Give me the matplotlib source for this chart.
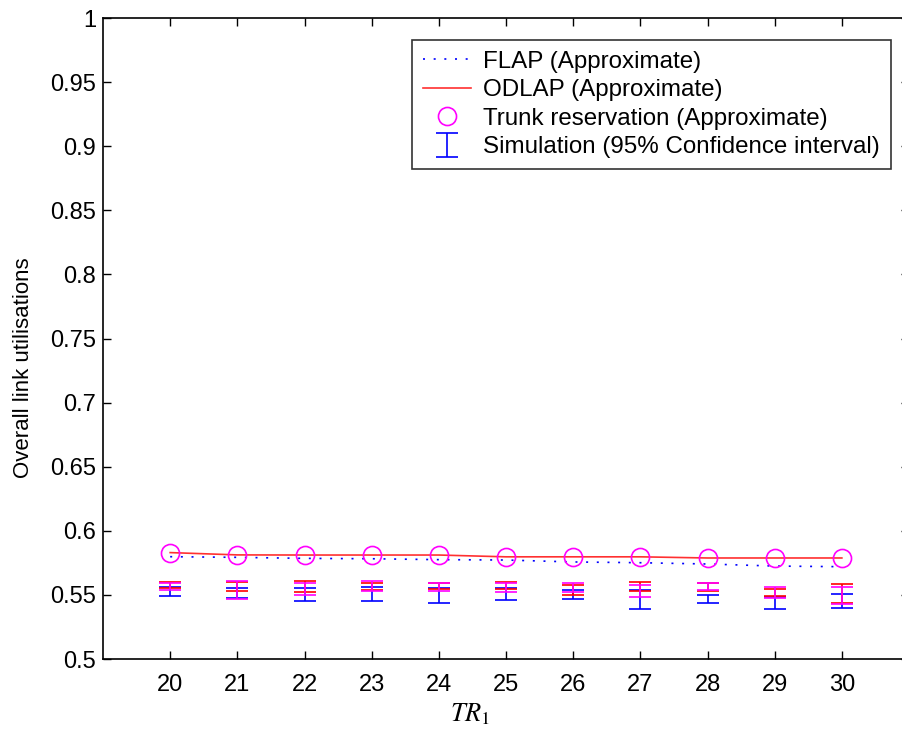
import numpy as np
import matplotlib
matplotlib.use("Agg")
import matplotlib.pyplot as plt

plt.rcParams["font.family"] = ["Liberation Sans", "DejaVu Sans"]
plt.rcParams["mathtext.fontset"] = "stix"

# ── Data ───────────────────────────────────────────────────────────────
tr1 = np.arange(20, 31)

flap  = [0.5798, 0.5793, 0.5785, 0.5782, 0.5775, 0.5772, 0.5757, 0.5751, 0.5741, 0.5725, 0.5720]
odlap = [0.5830, 0.5812, 0.5811, 0.5811, 0.5811, 0.5797, 0.5797, 0.5797, 0.5788, 0.5788, 0.5788]
trunk = [0.5827, 0.5811, 0.5810, 0.5810, 0.5810, 0.5796, 0.5796, 0.5798, 0.5788, 0.5788, 0.5788]

# simulation 95% confidence intervals (low, high) for each scheme
sim_flap_lo  = [0.5494, 0.5476, 0.5455, 0.5452, 0.5439, 0.5460, 0.5466, 0.5388, 0.5434, 0.5388, 0.5395]
sim_flap_hi  = [0.5559, 0.5551, 0.5551, 0.5564, 0.5550, 0.5554, 0.5538, 0.5538, 0.5497, 0.5484, 0.5507]
sim_odlap_lo = [0.5554, 0.5530, 0.5525, 0.5538, 0.5544, 0.5546, 0.5497, 0.5530, 0.5530, 0.5491, 0.5439]
sim_odlap_hi = [0.5598, 0.5598, 0.5611, 0.5593, 0.5596, 0.5598, 0.5581, 0.5598, 0.5590, 0.5546, 0.5583]
sim_trunk_lo = [0.5538, 0.5466, 0.5499, 0.5530, 0.5530, 0.5523, 0.5523, 0.5486, 0.5538, 0.5476, 0.5429]
sim_trunk_hi = [0.5590, 0.5611, 0.5593, 0.5611, 0.5589, 0.5593, 0.5590, 0.5577, 0.5589, 0.5564, 0.5564]

yticks = [0.5, 0.55, 0.6, 0.65, 0.7, 0.75, 0.8, 0.85, 0.9, 0.95, 1]
ytick_labels = ["0.5", "0.55", "0.6", "0.65", "0.7", "0.75", "0.8", "0.85", "0.9", "0.95", "1"]


def ci(lo, hi):
    lo, hi = np.asarray(lo), np.asarray(hi)
    mid = (lo + hi) / 2
    return mid, (hi - lo) / 2


# ── Plot ───────────────────────────────────────────────────────────────
fig = plt.figure(figsize=(9.02, 7.35), dpi=100)
ax = fig.add_axes([0.1142, 0.1034, 0.8936, 0.8721])

ebkw = dict(fmt="none", capsize=8, elinewidth=1.2, capthick=1.2)
m, e = ci(sim_flap_lo, sim_flap_hi)
sim_h = ax.errorbar(tr1, m, yerr=e, ecolor="#0000FF", **ebkw)
m, e = ci(sim_odlap_lo, sim_odlap_hi)
ax.errorbar(tr1, m, yerr=e, ecolor="#FF0000", **ebkw)
m, e = ci(sim_trunk_lo, sim_trunk_hi)
ax.errorbar(tr1, m, yerr=e, ecolor="#FF00FF", **ebkw)

flap_h, = ax.plot(tr1, flap, color="#0000FF", lw=1.2, dashes=(1.2, 5.2))
odlap_h, = ax.plot(tr1, odlap, color="#FF3030", lw=1.2)
trunk_h, = ax.plot(tr1, trunk, ls="none", marker="o", ms=13, mfc="none",
                   mec="#FF00FF", mew=1.2)

ax.set_xlim(19, 31)
ax.set_ylim(0.5, 1)
ax.set_xticks(tr1)
ax.set_yticks(yticks)
ax.set_yticklabels(ytick_labels)
ax.tick_params(direction="in", length=6, width=1, labelsize=17,
               top=True, right=True)
ax.tick_params(axis="y", pad=5)
ax.tick_params(axis="x", pad=11)
for sp in ax.spines.values():
    sp.set_linewidth(1.2)

ax.set_ylabel("Overall link utilisations", fontsize=16)
ax.yaxis.set_label_coords(-0.085, 0.455)
ax.set_xlabel(r"$\mathit{TR}_{1}$", fontsize=19)
ax.xaxis.set_label_coords(0.455, -0.066)

leg = ax.legend([flap_h, odlap_h, trunk_h, sim_h],
                ["FLAP (Approximate)", "ODLAP (Approximate)",
                 "Trunk reservation (Approximate)",
                 "Simulation (95% Confidence interval)"],
                loc="upper right", bbox_to_anchor=(891 / 902, 1 - 40 / 735),
                bbox_transform=fig.transFigure, borderaxespad=0,
                fontsize=17.4, frameon=True, fancybox=False,
                handlelength=2.0, labelspacing=0.27, borderpad=0.45,
                handletextpad=0.5)
leg.get_frame().set_edgecolor("black")
leg.get_frame().set_linewidth(1.2)

fig.savefig("out.png", dpi=100)
